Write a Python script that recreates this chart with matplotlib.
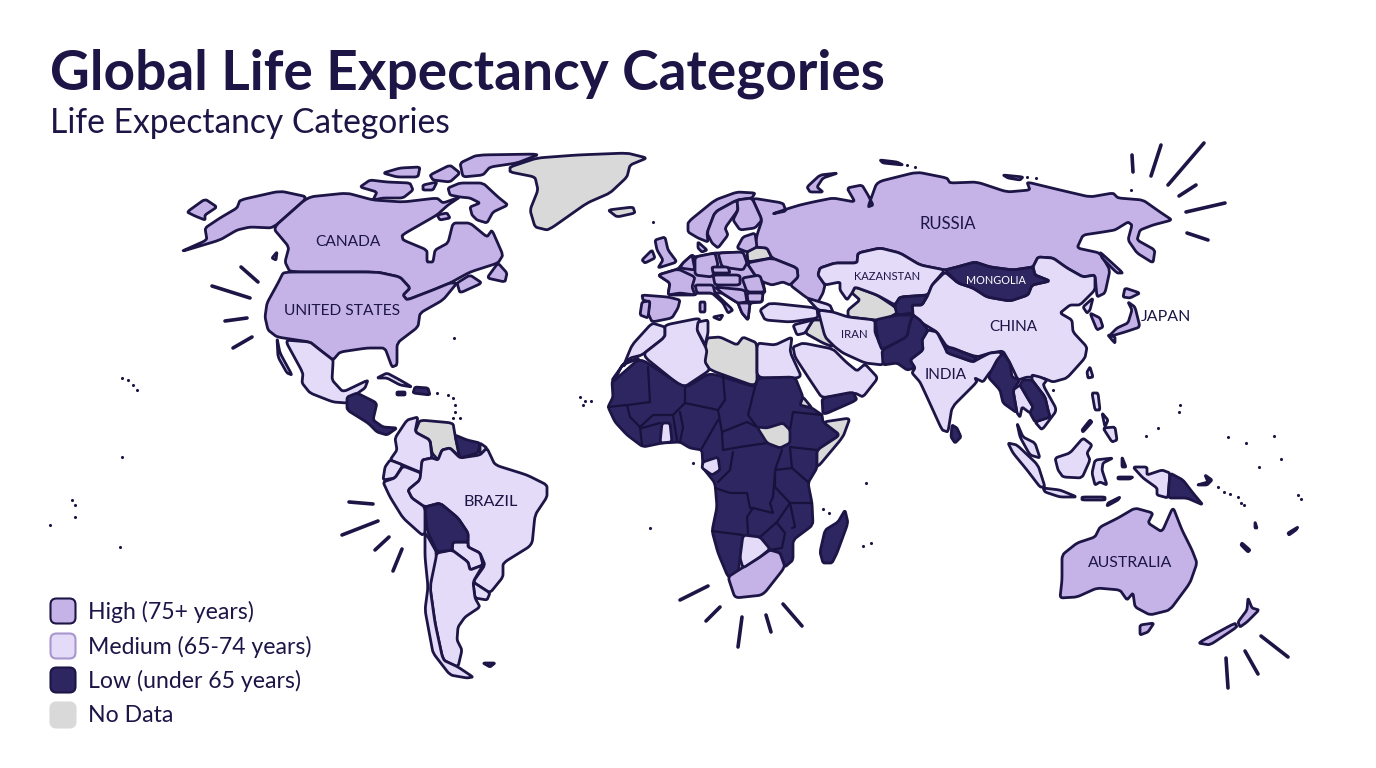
import matplotlib
matplotlib.use('agg')
import matplotlib.pyplot as plt
from matplotlib.patches import PathPatch, FancyBboxPatch
from matplotlib.path import Path

HIGH = '#c5b3e8'
MEDIUM = '#e3dbf7'
LOW = '#2e2661'
NODATA = '#d9d9d9'
INK = '#1c1546'

TITLE = 'Global Life Expectancy Categories'
SUBTITLE = 'Life Expectancy Categories'

legend_labels = ['High (75+ years)', 'Medium (65-74 years)', 'Low (under 65 years)', 'No Data']
legend_colors = [HIGH, MEDIUM, LOW, NODATA]
legend_edges = [INK, '#a896cf', INK, NODATA]
legend_rows = [611, 646, 680, 715]

# outlines, in image pixels
high_shapes = [
    # alaska, canada, usa
    [(308,197),(273,228),(250,227),(237,230),(220,240),(180,252),(207,240),(205,228),(220,218),(237,208),(240,200),(280,191)],
    [(187,212),(205,199),(217,207),(205,215),(205,220),(195,216)],
    [(308,197),(347,193),(373,200),(403,202),(437,198),(443,203),(460,197),(448,205),(437,215),(402,235),(403,240),(427,250),(427,262),(433,262),(435,250),(448,243),(453,223),(470,223),(487,237),(492,230),(503,255),(498,263),(470,272),(450,283),(433,290),(407,300),(403,295),(410,288),(400,277),(377,272),(290,272),(285,262),(289,247),(273,228)],
    [(283,273),(290,272),(377,272),(400,277),(410,288),(403,295),(407,300),(433,290),(450,283),(457,283),(443,300),(420,313),(418,327),(397,343),(397,365),(392,367),(385,348),(367,348),(340,352),(333,360),(320,350),(310,342),(277,337),(268,330),(265,317),(267,303),(278,283)],
    [(457,283),(470,275),(482,283),(460,293)],
    [(487,278),(498,263),(507,273),(505,282)],
    [(448,188),(460,183),(483,183),(498,197),(508,205),(493,212),(487,223),(477,220),(472,215),(470,207),(480,203),(470,198),(460,197),(450,195)],
    [(360,187),(370,180),(387,182),(410,183),(413,190),(403,198),(383,198),(373,200),(377,192)],
    [(460,163),(477,155),(540,154),(517,163),(490,167),(483,175),(463,177)],
    [(383,173),(400,168),(420,167),(418,177),(397,177)],
    [(430,175),(450,165),(460,173),(450,182),(433,180)],
    [(423,185),(437,182),(433,190),(423,190)],
    [(437,215),(447,213),(450,218),(440,220)],
    [(272,258),(277,252),(276,260)],
    # russia and arctic islands
    [(752,198),(783,203),(786,211),(772,214),(790,208),(800,205),(813,202),(833,198),(855,202),(847,188),(862,185),(868,195),(873,205),(868,207),(877,182),(917,172),(947,178),(950,183),(977,182),(1007,192),(1030,190),(1027,182),(1060,190),(1090,197),(1113,193),(1118,198),(1143,200),(1160,212),(1172,220),(1153,225),(1140,230),(1137,240),(1155,250),(1153,263),(1137,253),(1128,240),(1132,225),(1128,222),(1115,230),(1103,232),(1083,235),(1077,248),(1100,253),(1110,270),(1105,293),(1097,297),(1095,275),(1083,277),(1067,268),(1053,258),(1038,257),(1033,267),(1013,270),(990,267),(975,262),(957,267),(945,270),(920,265),(900,253),(880,248),(858,253),(857,263),(835,263),(820,268),(818,275),(825,285),(823,293),(818,302),(807,298),(790,285),(798,277),(797,268),(772,258),(767,248),(755,247),(757,235),(762,220)],
    [(807,187),(820,175),(838,173),(823,178),(817,187),(823,192),(810,192)],
    [(880,160),(897,162),(903,165),(883,163)],
    [(1003,175),(1023,177),(1020,180),(1008,178)],
    [(1100,252),(1123,273),(1117,273),(1102,258)],
    # japan, south korea
    [(1125,288),(1140,293),(1130,298),(1123,297)],
    [(1128,302),(1135,307),(1140,327),(1125,332),(1108,337),(1117,328),(1128,323),(1132,310)],
    [(1108,335),(1115,337),(1115,343),(1112,340)],
    [(1090,313),(1100,318),(1103,327),(1097,330)],
    # europe, first the mainland so no gaps show between countries
    [(658,275),(678,269),(683,263),(692,255),(695,257),(715,253),(718,253),(743,252),(747,263),(755,275),(763,282),(765,292),(763,293),(762,302),(750,303),(748,320),(742,313),(738,303),(733,300),(722,293),(715,293),(697,293),(695,295),(668,295),(670,283)],
    [(688,222),(715,200),(737,192),(755,193),(752,198),(737,200),(715,212),(707,233),(708,242),(698,238),(688,232)],
    [(715,212),(737,200),(738,210),(725,228),(728,235),(718,248),(712,243),(707,233)],
    [(737,200),(752,198),(762,220),(755,228),(740,230),(733,220),(738,210)],
    [(743,237),(755,233),(757,247),(747,252),(737,248)],
    [(747,263),(772,258),(797,268),(798,277),(790,285),(783,282),(772,285),(763,282),(755,275)],
    [(718,253),(743,252),(747,263),(743,270),(722,267)],
    [(695,257),(715,253),(718,265),(712,277),(695,275)],
    [(698,242),(707,250),(702,252),(698,248)],
    [(655,240),(665,237),(668,250),(677,262),(658,268),(663,260),(657,250)],
    [(642,260),(652,250),(655,258),(645,263)],
    [(658,275),(678,269),(695,277),(692,287),(695,295),(680,293),(668,295),(670,283)],
    [(683,263),(692,255),(695,270),(680,268)],
    [(642,295),(668,297),(680,300),(678,308),(672,318),(652,322),(648,313),(650,302),(643,300)],
    [(642,302),(650,301),(648,318),(640,315)],
    [(695,285),(713,285),(715,293),(733,310),(728,313),(723,303),(712,293),(697,293)],
    [(713,317),(723,315),(720,320)],
    [(700,302),(705,302),(705,312),(700,312)],
    [(712,267),(728,267),(730,273),(713,273)],
    [(713,275),(740,275),(740,285),(715,285)],
    [(742,278),(760,275),(765,292),(747,292)],
    [(747,293),(763,293),(762,302),(748,302)],
    [(738,303),(750,303),(748,320),(742,313)],
    [(715,287),(745,290),(747,302),(738,303),(733,300),(722,293)],
    # australia, new zealand
    [(1062,555),(1077,543),(1095,537),(1100,527),(1118,518),(1135,508),(1153,513),(1148,523),(1162,532),(1173,507),(1182,530),(1192,550),(1197,563),(1190,583),(1170,610),(1150,615),(1135,607),(1133,593),(1127,600),(1120,590),(1097,588),(1077,597),(1060,598),(1062,580)],
    [(1140,625),(1154,623),(1148,632),(1140,635)],
    [(1198,643),(1235,623),(1237,627),(1210,645)],
    [(1238,622),(1247,610),(1248,598),(1252,608),(1259,610),(1247,622),(1240,627)],
]

medium_shapes = [
    # mexico and baja
    [(285,340),(310,342),(320,350),(333,360),(333,363),(332,380),(343,392),(368,380),(365,388),(355,395),(347,403),(333,402),(310,393),(302,383),(303,373)],
    [(277,338),(280,353),(292,375),(287,373),(278,357)],
    [(377,378),(387,373),(400,380),(412,387),(400,385),(387,378)],
    # south america
    [(395,438),(407,420),(418,417),(415,432),(430,440),(432,458),(422,460),(422,473),(403,465),(390,460),(397,450)],
    [(390,460),(403,465),(395,478),(383,480),(385,467)],
    [(383,482),(395,478),(403,466),(421,473),(420,480),(408,490),(412,498),(425,507),(425,533),(422,535),(403,518),(390,497)],
    [(432,458),(438,460),(442,450),(450,448),(460,458),(480,455),(487,448),(495,465),(527,475),(547,485),(547,497),(535,515),(532,545),(503,563),(503,577),(490,593),(473,582),(485,565),(480,553),(468,547),(468,533),(458,518),(440,503),(425,507),(412,498),(408,490),(420,480),(422,460)],
    [(453,542),(468,542),(468,547),(480,553),(483,565),(470,570),(468,562),(452,550)],
    [(473,582),(490,593),(487,600),(475,598)],
    [(437,553),(452,550),(468,562),(470,570),(483,565),(473,582),(475,598),(480,607),(465,617),(458,627),(457,640),(462,650),(458,667),(443,660),(435,623),(430,587),(433,563)],
    [(425,533),(428,537),(437,553),(430,587),(435,623),(443,660),(458,667),(473,677),(467,678),(450,675),(433,653),(430,637),(425,610),(428,587),(425,557)],
    # north africa and middle east
    [(652,323),(665,327),(665,337),(642,355),(630,358),(623,367),(632,345)],
    [(665,325),(700,318),(697,330),(707,350),(705,362),(710,370),(683,388),(642,355),(665,337)],
    [(698,322),(708,320),(708,333),(705,345),(697,330)],
    [(757,343),(775,345),(792,337),(790,352),(802,378),(757,378)],
    [(793,347),(803,343),(833,349),(846,362),(857,371),(865,364),(878,378),(863,397),(855,393),(822,398),(810,380),(795,357)],
    [(793,325),(813,320),(805,333),(797,335)],
    [(760,310),(770,303),(817,308),(818,318),(790,322),(765,320)],
    [(807,298),(830,305),(833,312),(818,310)],
    [(818,310),(833,312),(848,317),(875,320),(875,333),(885,353),(883,365),(865,363),(843,353),(835,347),(825,337)],
    [(820,268),(835,263),(857,263),(858,253),(880,248),(900,253),(920,265),(945,270),(932,285),(928,295),(900,297),(895,305),(877,295),(855,287),(852,293),(847,300),(840,290),(840,282),(825,285),(818,275)],
    # china, india, southeast asia
    [(928,295),(932,285),(945,272),(958,283),(973,288),(987,297),(1010,301),(1028,295),(1032,285),(1050,281),(1035,275),(1033,267),(1038,257),(1053,258),(1067,268),(1083,277),(1095,275),(1095,290),(1080,305),(1070,305),(1060,313),(1072,320),(1073,332),(1087,347),(1085,358),(1067,378),(1053,382),(1043,378),(1027,377),(1018,380),(1010,363),(1003,351),(990,353),(977,357),(947,347),(937,332),(922,323),(913,315),(912,305),(922,305)],
    [(928,330),(937,332),(947,352),(973,362),(982,357),(990,353),(1000,352),(1005,360),(990,372),(983,382),(975,378),(977,382),(952,407),(948,432),(942,430),(927,397),(920,382),(912,373),(915,368),(910,360),(923,350),(922,340)],
    [(1083,307),(1093,298),(1090,310),(1087,313)],
    [(1013,390),(1020,385),(1027,397),(1033,407),(1030,413),(1022,407),(1020,417),(1017,413)],
    [(1032,375),(1040,377),(1047,380),(1043,385),(1057,410),(1042,430),(1035,422),(1050,417),(1048,410),(1045,397),(1032,380)],
    [(1017,423),(1023,437),(1035,443),(1040,458),(1030,455),(1020,437)],
    [(1090,367),(1093,377),(1088,378),(1087,372)],
    [(1008,443),(1017,445),(1038,465),(1045,487),(1040,487),(1027,470),(1013,453)],
    [(1043,488),(1060,490),(1077,497),(1060,497),(1045,492)],
    [(1055,458),(1070,453),(1083,438),(1092,445),(1087,453),(1090,460),(1082,478),(1063,477),(1058,470)],
    [(1095,460),(1113,458),(1103,463),(1102,470),(1107,485),(1100,482),(1095,485),(1092,473)],
    [(1092,393),(1098,393),(1100,410),(1095,410)],
    [(1103,428),(1115,427),(1117,440),(1112,442)],
    [(1102,413),(1108,420),(1105,427)],
    [(1082,497),(1105,497),(1105,500),(1082,500)],
    [(1108,503),(1120,497),(1118,500),(1107,506)],
    [(1133,467),(1147,467),(1147,475),(1162,470),(1170,473),(1168,498),(1157,495),(1157,488),(1143,478)],
]

low_shapes = [
    # africa south of the sahara, borders drawn over it
    [(615,380),(640,358),(685,388),(710,373),(755,387),(758,378),(795,377),(803,397),(800,405),(812,408),(822,415),(823,422),(840,435),(817,450),(817,468),(808,483),(812,503),(813,525),(793,540),(793,560),(785,567),(780,553),(770,550),(760,537),(743,535),(740,558),(738,575),(728,577),(718,553),(712,531),(717,507),(715,483),(703,468),(702,450),(690,448),(680,442),(662,443),(643,447),(627,435),(615,422),(608,407),(613,397),(612,382)],
    [(845,510),(848,523),(837,553),(832,563),(823,563),(820,552),(825,530),(838,522)],
    [(822,398),(853,392),(857,400),(823,415)],
    # central america, caribbean, south america
    [(347,397),(357,393),(377,403),(373,420),(383,427),(397,428),(387,435),(377,432),(368,423),(347,410)],
    [(415,387),(428,388),(430,395),(413,393)],
    [(397,392),(405,392),(405,395),(397,395)],
    [(455,435),(467,440),(480,443),(478,453),(460,458),(458,450)],
    [(425,507),(440,503),(458,518),(468,533),(468,542),(453,542),(452,550),(437,552),(427,530)],
    # central and south asia
    [(945,270),(957,267),(975,262),(990,267),(1013,270),(1033,267),(1035,275),(1050,281),(1032,285),(1028,295),(1010,301),(987,297),(973,288),(958,283)],
    [(895,305),(900,297),(928,295),(922,305),(912,305),(913,313),(897,315)],
    [(875,320),(897,315),(913,315),(910,323),(907,337),(882,350),(878,340)],
    [(913,315),(920,320),(928,330),(922,340),(923,350),(910,360),(915,368),(907,370),(897,363),(883,365),(882,350),(907,337),(910,323)],
    [(945,347),(953,348),(977,358),(973,362),(947,353)],
    [(988,377),(997,360),(1003,353),(1010,363),(1012,377),(1020,380),(1013,390),(1017,413),(1003,403),(1000,390)],
    [(1023,380),(1032,380),(1045,397),(1048,410),(1050,417),(1035,422),(1030,413),(1033,407),(1027,397),(1020,385)],
    [(952,425),(957,428),(961,437),(955,443),(951,437)],
    [(1170,473),(1183,480),(1193,493),(1203,505),(1187,498),(1168,498)],
    [(1197,485),(1207,485),(1212,480),(1205,475),(1208,482)],
    [(1118,477),(1133,477),(1130,479),(1118,479)],
    [(1122,457),(1126,467),(1122,467)],
    [(1083,432),(1092,422),(1090,420),(1082,430)],
    [(1242,543),(1250,550),(1248,552),(1241,545)],
    [(1288,533),(1298,527),(1296,530),(1289,535)],
    [(1255,522),(1257,528),(1255,528)],
    [(483,663),(495,663),(490,667)],
]

nodata_shapes = [
    [(510,167),(537,158),(577,155),(627,153),(647,158),(630,165),(627,177),(610,193),(587,203),(553,227),(547,230),(535,227),(530,210),(538,190),(535,177),(510,172)],
    [(608,210),(633,207),(635,213),(617,217)],
    [(415,432),(420,420),(453,423),(455,435),(460,457),(450,448),(442,450),(438,460),(432,453),(430,440)],
    [(480,443),(487,448),(480,455)],
    [(707,338),(720,337),(737,345),(743,337),(757,343),(757,387),(710,370),(703,360)],
    [(805,333),(813,320),(822,320),(833,347),(823,343)],
    [(848,310),(860,300),(852,293),(855,287),(877,295),(895,307),(897,313),(885,320),(875,320),(848,317)],
    [(747,252),(755,247),(767,248),(772,258),(748,262)],
]

# these sit on top of the dark africa block
africa_overlays = [
    (HIGH, [(728,577),(742,568),(760,557),(770,550),(780,553),(785,567),(763,595),(735,598)]),
    (MEDIUM, [(743,535),(760,537),(770,549),(760,557),(743,568),(740,558)]),
    (MEDIUM, [(662,423),(670,423),(672,442),(660,443)]),
    (MEDIUM, [(703,462),(718,457),(720,470),(712,475),(702,468)]),
    (NODATA, [(612,380),(625,362),(640,358),(622,365),(615,380)]),
    (NODATA, [(757,427),(767,428),(783,423),(790,430),(790,443),(780,448),(767,443)]),
    (NODATA, [(823,422),(850,418),(843,437),(817,468),(817,450),(840,435)]),
    (NODATA, [(800,405),(803,397),(812,408)]),
]

# borders inside the dark part of africa
africa_borders = [
    [(648,367),(650,402),(628,405)],
    [(685,388),(685,403),(673,415),(653,415),(640,427)],
    [(723,375),(725,400),(718,410),(685,403)],
    [(755,387),(748,415),(757,427)],
    [(718,410),(722,432),(747,422),(757,427)],
    [(722,433),(723,450),(740,447),(767,443)],
    [(680,412),(683,427),(680,442)],
    [(702,448),(718,420)],
    [(790,430),(793,412),(822,415)],
    [(790,447),(817,450)],
    [(790,448),(792,468),(775,470),(782,450)],
    [(792,468),(808,482)],
    [(812,503),(790,503),(775,487),(775,472)],
    [(775,473),(773,497),(770,503),(773,513),(753,508),(750,508),(747,493),(730,493),(715,488)],
    [(733,452),(730,470),(718,482)],
    [(753,508),(747,517),(748,533)],
    [(712,531),(743,535)],
    [(777,522),(760,537)],
    [(777,523),(785,533),(782,548),(770,550)],
    [(777,522),(790,503)],
    [(790,503),(795,527),(792,528)],
    [(608,407),(627,405),(630,417),(640,427),(642,445)],
    [(642,428),(660,423)],
    [(673,415),(677,440)],
]

# little islands
dots = [(122,378),(128,380),(133,385),(137,390),(50,525),(75,517),(75,505),(120,547),(72,500),(122,457),
        (454,338),(448,395),(453,398),(455,405),(455,412),(460,418),(453,418),(580,397),(585,401),(583,405),(591,401),
        (653,222),(693,463),(650,528),(866,483),(823,509),(829,513),(863,546),(871,543),(1131,190),
        (1180,405),(1179,412),(1158,428),(1146,436),(1228,437),(1246,443),(1274,436),(1281,459),(1259,467),(1298,495),(1301,499),
        (1218,487),(1224,492),(1230,494),(1238,497),(1241,503),(1244,505),(1053,390),(1027,177),(1036,178),(907,165),(915,167),(437,393)]

# accent strokes round the map
rays = [
    [(241,267),(258,282)], [(212,286),(250,298)], [(225,321),(247,318)], [(233,348),(252,337)],
    [(349,502),(373,504)], [(342,535),(378,521)], [(375,550),(389,537)], [(393,571),(402,549)],
    [(680,600),(708,586)], [(706,621),(720,607)], [(738,647),(742,617)], [(771,632),(766,615)], [(802,626),(783,604)],
    [(1228,688),(1226,658)], [(1258,674),(1245,651)], [(1288,657),(1261,636)],
    [(1133,172),(1132,155)], [(1151,176),(1161,145)], [(1168,185),(1204,143)], [(1179,196),(1196,185)],
    [(1186,212),(1225,203)], [(1187,233),(1208,240)],
]

country_labels = ['CANADA', 'UNITED STATES', 'RUSSIA', 'KAZANSTAN', 'MONGOLIA', 'CHINA', 'IRAN', 'INDIA', 'JAPAN', 'BRAZIL', 'AUSTRALIA']
label_x = [348, 342, 948, 887, 996, 1013, 854, 946, 1166, 491, 1130]
label_y = [242, 311, 224, 277, 281, 327, 335, 375, 317, 502, 563]
label_size = [11.2, 11.2, 12, 8, 7.8, 11, 8.2, 11, 11.5, 11.7, 11.4]

FONT = 'Lato'


def soft_outline(pts, r=0.18):
    # round each corner with a quadratic curve, the outlines are hand drawn looking
    verts, codes = [], []
    n = len(pts)
    for i, (x, y) in enumerate(pts):
        px, py = pts[i - 1]
        nx, ny = pts[(i + 1) % n]
        verts.append((x + r * (px - x), y + r * (py - y)))
        codes.append(Path.MOVETO if i == 0 else Path.LINETO)
        verts += [(x, y), (x + r * (nx - x), y + r * (ny - y))]
        codes += [Path.CURVE3, Path.CURVE3]
    verts.append(verts[0])
    codes.append(Path.CLOSEPOLY)
    return Path(verts, codes)


def draw_shape(ax, pts, color, z):
    ax.add_patch(PathPatch(soft_outline(pts), facecolor=color, edgecolor=INK, lw=2.0,
                           joinstyle='round', zorder=z))


fig = plt.figure(figsize=(13.76, 7.68), dpi=100)
ax = fig.add_axes([0, 0, 1, 1])
ax.set_xlim(0, 1376)
ax.set_ylim(768, 0)
ax.axis('off')

for shapes, color in [(nodata_shapes, NODATA), (high_shapes, HIGH), (medium_shapes, MEDIUM), (low_shapes, LOW)]:
    for pts in shapes:
        draw_shape(ax, pts, color, 2)
for color, pts in africa_overlays:
    draw_shape(ax, pts, color, 3)

for line in africa_borders:
    ax.plot([p[0] for p in line], [p[1] for p in line], color='#17113c', lw=1.6, solid_capstyle='round', zorder=2.5)

ax.scatter([d[0] for d in dots], [d[1] for d in dots], s=5, color=INK, linewidths=0, zorder=3)

for line in rays:
    ax.plot([p[0] for p in line], [p[1] for p in line], color=INK, lw=2.6, solid_capstyle='round', zorder=3)

for name, x, y, size in zip(country_labels, label_x, label_y, label_size):
    ax.text(x, y, name, fontsize=size, ha='center', va='center', family=FONT,
            color='white' if name == 'MONGOLIA' else INK, zorder=5)

ax.text(50, 74, TITLE, fontsize=39.6, fontweight='bold', family=FONT, color=INK, va='center', ha='left')
ax.text(50, 123, SUBTITLE, fontsize=24.2, family=FONT, color=INK, va='center', ha='left')

for label, face, edge, y in zip(legend_labels, legend_colors, legend_edges, legend_rows):
    ax.add_patch(FancyBboxPatch((53, y - 10), 20, 20, boxstyle='round,pad=2.5,rounding_size=6',
                                facecolor=face, edgecolor=edge, lw=1.5, zorder=4))
    ax.text(88, y + 1, label, fontsize=16.6, family=FONT, color=INK, va='center', ha='left')

fig.savefig('out.png', dpi=100, facecolor='white')
